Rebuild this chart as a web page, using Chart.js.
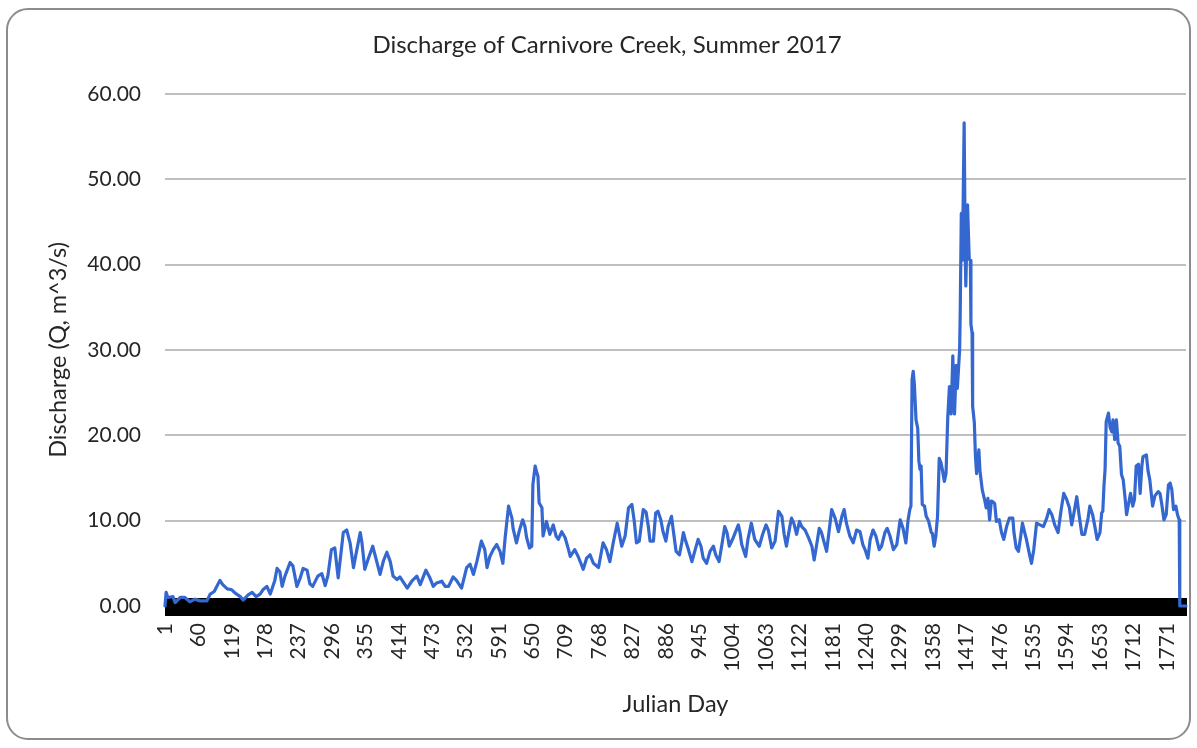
<!DOCTYPE html>
<html>
<head>
<meta charset="utf-8">
<script src="https://cdn.jsdelivr.net/npm/chart.js@4.4.0/dist/chart.umd.min.js"></script>
<style>
  html, body { margin: 0; padding: 0; background: #fff; }
  #wrap { position: relative; width: 1197px; height: 748px; overflow: hidden; }
  #frame { position: absolute; left: 6px; top: 8px; width: 1185px; height: 732px; box-sizing: border-box;
           border: 2px solid #8c8c8c; border-radius: 22px; }
  #c { position: absolute; left: 0; top: 0; }
</style>
</head>
<body>
<div id="wrap">
  <div id="frame"></div>
  <canvas id="c" width="1197" height="748"></canvas>
</div>
<script>
// julian day index (1..1805) and discharge (m^3/s) at the line's turning points
var sampleDay = [1,3,6,15,19,28,36,45,54,63,75,81,88,98,103,111,119,125,134,139,148,155,162,169,174,181,187,195,199,204,208,213,222,227,234,240,245,252,257,262,271,278,284,289,
  295,301,307,316,322,328,334,340,346,349,354,360,368,372,381,387,393,399,404,411,416,425,429,437,446,452,462,469,475,481,490,496,502,510,516,525,534,540,546,552,560,566,570,
  575,581,587,593,598,602,608,614,616,622,627,633,637,640,645,649,651,655,658,660,662,667,669,675,681,687,692,696,702,708,714,717,725,731,737,740,746,752,758,767,775,781,787,793,800,808,814,820,826,830,834,839,846,
  851,855,858,864,868,872,877,881,886,890,896,899,904,910,914,917,921,925,932,937,943,948,952,958,964,970,974,980,985,990,994,998,1005,1014,1017,1020,1027,1031,1037,1043,1051,1057,1063,1067,1073,1079,1085,1091,1095,1099,1105,1108,1112,1117,1122,1126,1132,1138,
  1144,1148,1152,1157,1161,1165,1170,1175,1179,1185,1191,1197,1201,1205,1211,1217,1223,1229,1234,1238,1243,1247,1252,1257,1263,1267,1273,1277,1282,1288,1294,1300,1305,1310,1314,1317,
  1319,1321,1323,1325,1328,1331,1333,1335,1337,1339,1343,1346,1350,1355,1357,1360,1363,1366,1369,1372,1375,1378,1381,1384,1387,1390,1393,1396,1399,1401,1405,1406,1408,1410,1413,1415,1416,1419,1422,1424,1425,1427,1428,1431,1433,1435,1439,1441,1445,1449,1452,1455,
  1458,1461,1464,1467,1470,1475,1479,1483,1488,1493,1499,1501,1505,1509,1513,1516,1520,1523,1528,1532,1536,1541,1547,1553,1559,1563,1568,1573,1579,1584,1589,1594,1599,1603,1607,1612,1616,1621,1626,1632,1635,1640,1644,1648,1653,
  1656,1658,1660,1662,1664,1668,1671,1674,1676,1679,1682,1685,1688,1691,1694,1697,1700,1705,1707,1711,1714,1717,1721,1724,1727,1729,1735,1738,1741,1746,1750,1756,1759,1762,1766,1770,1774,1777,1780,1783,1787,1790,1793,1794,1805];

var discharge = [0.0,1.6,1.0,1.1,0.4,1.0,1.0,0.5,0.8,0.6,0.6,1.4,1.7,3.0,2.5,2.0,1.9,1.5,1.1,0.7,1.3,1.6,1.1,1.4,1.9,2.3,1.4,3.0,4.4,4.0,2.3,3.5,5.1,4.7,2.3,3.3,4.4,4.2,2.6,2.3,3.5,3.8,2.4,3.6,
  6.6,6.8,3.3,8.6,8.9,7.4,4.5,6.6,8.6,7.4,4.3,5.5,7.0,6.0,3.7,5.3,6.3,5.2,3.5,3.1,3.4,2.5,2.1,2.9,3.5,2.5,4.2,3.3,2.3,2.7,2.9,2.3,2.3,3.4,3.0,2.1,4.5,4.9,3.7,5.2,7.6,6.6,4.5,
  5.8,6.6,7.2,6.4,5.0,8.0,11.7,10.3,9.1,7.4,8.8,10.1,9.3,8.0,6.8,7.0,14.2,16.4,15.6,15.2,12.1,11.5,8.2,9.9,8.4,9.5,8.2,7.8,8.7,8.0,6.6,5.8,6.6,5.8,4.8,4.3,5.6,6.0,5.0,4.5,7.4,6.6,5.2,7.4,9.7,7.0,8.2,11.5,11.9,10.0,7.4,7.6,11.3,
  11.0,9.3,7.6,7.6,10.9,11.1,10.1,8.7,7.6,9.3,10.5,8.9,6.4,6.0,7.4,8.6,7.6,6.8,5.2,6.4,7.8,7.0,5.6,5.0,6.4,7.0,6.0,5.2,7.2,9.3,8.6,7.0,8.0,9.5,8.6,7.2,5.8,7.8,9.7,7.8,7.0,8.4,9.5,8.9,6.8,7.6,11.1,10.5,8.4,7.0,9.3,10.3,9.7,8.4,9.9,9.3,8.9,8.0,
  7.0,5.4,7.0,9.1,8.6,7.6,6.4,9.1,11.3,10.3,8.7,10.5,11.3,9.7,8.2,7.4,8.9,8.7,7.2,6.6,5.6,7.8,8.9,8.2,6.6,7.0,8.6,9.1,8.2,6.6,7.2,10.1,9.1,7.4,10.1,11.3,
  11.7,26.5,27.5,26.0,21.8,20.8,17.0,16.0,16.4,11.9,11.7,10.5,10.0,8.6,8.5,7.0,8.2,10.5,17.3,16.8,15.8,14.6,15.5,22.0,25.7,22.5,29.3,22.5,28.2,25.5,30.0,34.0,46.0,40.5,56.6,41.0,37.5,47.0,40.6,40.5,33.0,32.0,23.4,21.5,17.5,15.5,18.3,15.8,13.6,12.5,11.5,12.6,
  10.1,12.3,12.2,12.0,9.9,10.1,8.6,7.8,9.3,10.3,10.3,8.6,6.8,6.4,8.2,9.7,8.6,7.8,6.2,5.0,6.6,9.7,9.5,9.3,10.3,11.3,10.7,9.5,8.6,11.1,13.2,12.5,11.5,9.5,10.9,12.8,10.7,8.4,8.4,10.3,11.7,10.7,9.3,7.8,8.6,
  10.9,11.1,14.0,16.0,21.6,22.6,20.9,20.4,21.8,19.5,21.8,19.1,18.7,15.4,14.8,12.9,10.7,12.5,13.2,11.7,12.5,16.4,16.6,13.2,16.4,17.5,17.7,15.8,14.8,11.7,12.9,13.4,13.2,12.0,10.1,10.7,14.2,14.4,13.6,11.3,11.7,10.7,10.1,0.0,0.0];

var dayCount = 1805;
var labelStep = 59;

var days = [];
for (let i = 1; i <= dayCount; i++) {
  days.push(i);
}
var points = [];
for (let i = 0; i < sampleDay.length; i++) {
  points.push({x: sampleDay[i], y: discharge[i]});
}

var txt = '#262626';
var fnt = {family: 'Lato', size: 21};
var titleFnt = {family: 'Lato', size: 23.5};

// Excel style "cross" tick marks: the upper half above the axis line
var crossTicks = {
  id: 'crossTicks',
  beforeDatasetsDraw: function(chart) {
    var xs = chart.scales.x;
    var y0 = chart.scales.y.getPixelForValue(0);
    var ctx = chart.ctx;
    ctx.save();
    ctx.strokeStyle = '#000';
    ctx.lineWidth = 1;
    ctx.beginPath();
    for (let i = 0; i < xs.ticks.length; i++) {
      var px = Math.round(xs.getPixelForTick(i)) + 0.5;
      ctx.moveTo(px, y0 - 8);
      ctx.lineTo(px, y0 + 1);
    }
    ctx.stroke();
    ctx.restore();
  }
};

var ctx = document.getElementById('c').getContext('2d');
var chart = new Chart(ctx, {
  type: 'line',
  data: {
    labels: days,
    datasets: [{
      label: 'Discharge',
      data: points,
      borderColor: '#3468d0',
      borderWidth: 3.2,
      borderJoinStyle: 'round',
      borderCapStyle: 'round',
      pointRadius: 0,
      tension: 0,
      fill: false,
      clip: 6
    }]
  },
  options: {
    responsive: false,
    animation: false,
    layout: { padding: { left: 28, right: 11, top: 20, bottom: 20 } },
    plugins: {
      legend: { display: false },
      tooltip: { enabled: false },
      title: {
        display: true,
        text: 'Discharge of Carnivore Creek, Summer 2017',
        color: txt,
        font: { family: 'Lato', size: 24, weight: 'normal' },
        padding: { top: 11, bottom: 34 }
      }
    },
    scales: {
      x: {
        type: 'category',
        grid: { drawOnChartArea: false, drawTicks: true, tickLength: 10, color: '#000', lineWidth: 1 },
        border: { display: true, color: '#000' },
        ticks: {
          autoSkip: false,
          minRotation: 90,
          maxRotation: 90,
          padding: 7,
          color: txt,
          font: fnt,
          callback: function(v, i) { return i % labelStep === 0 ? String(this.getLabelForValue(v)) : ''; }
        },
        title: { display: true, text: 'Julian Day', color: txt, font: titleFnt, padding: { top: 9, bottom: 9 } },
        afterFit: function(s) { s.height = 122; s.paddingLeft = 0; s.paddingRight = 0; }
      },
      y: {
        min: 0,
        max: 60,
        grid: { color: '#bfbfbf', lineWidth: 2, drawTicks: false },
        border: { display: false },
        ticks: {
          stepSize: 10,
          padding: 24,
          color: txt,
          font: fnt,
          callback: function(v) { return v.toFixed(2); }
        },
        title: { display: true, text: 'Discharge (Q, m^3/s)', color: txt, font: titleFnt, padding: { top: 16, bottom: 0 } },
        afterFit: function(s) { s.width = 137; }
      }
    }
  },
  plugins: [crossTicks]
});
</script>
</body>
</html>
